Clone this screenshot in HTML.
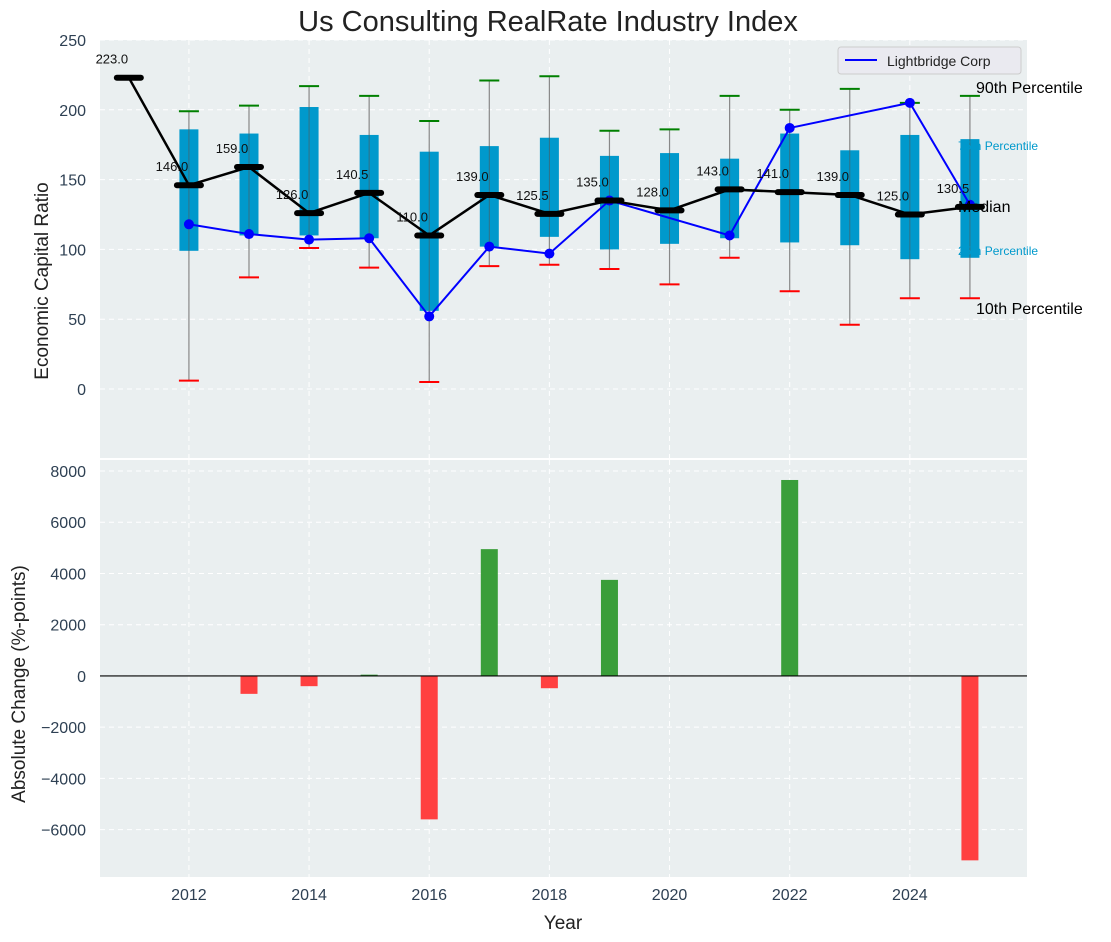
<!DOCTYPE html>
<html><head><meta charset="utf-8"><style>
html,body{margin:0;padding:0;background:#fff;}
svg{display:block;font-family:"Liberation Sans","DejaVu Sans",sans-serif;}
</style></head><body>
<svg id="chart" width="1111" height="942" viewBox="0 0 1111 942" xmlns="http://www.w3.org/2000/svg">
<text x="548" y="31" font-size="29" text-anchor="middle" fill="#222">Us Consulting RealRate Industry Index</text>
<g id="gtop"></g>
<g id="gbot"></g>
</svg>
<script>
const years = [2012,2013,2014,2015,2016,2017,2018,2019,2020,2021,2022,2023,2024,2025];
const q75 = [186,183,202,182,170,174,180,167,169,165,183,171,182,179];
const q25 = [99,110,110,108,56,102,109,100,104,108,105,103,93,94];
const p90 = [199,203,217,210,192,221,224,185,186,210,200,215,205,210];
const p10 = [6,80,101,87,5,88,89,86,75,94,70,46,65,65];
const medYears = [2011,2012,2013,2014,2015,2016,2017,2018,2019,2020,2021,2022,2023,2024,2025];
const medians = [223,146,159,126,140.5,110,139,125.5,135,128,143,141,139,125,130.5];
const lbYears = [2012,2013,2014,2015,2016,2017,2018,2019,2021,2022,2024,2025];
const lbValues = [118,111,107,108,52,102,97,135,110,187,205,132];
const chgYears = [2013,2014,2015,2016,2017,2018,2019,2022,2025];
const chgValues = [-700,-400,50,-5600,4950,-480,3750,7650,-7200];
const xTicks = [2012,2014,2016,2018,2020,2022,2024];
const yTopTicks = [0,50,100,150,200,250];
const yBotTicks = [-6000,-4000,-2000,0,2000,4000,6000,8000];

const NS="http://www.w3.org/2000/svg";
const L=100,R=1027;
const X=v=>L+(v-2010.52)/(2025.95-2010.52)*(R-L);
const T0=40,T1=458, Yt=v=>T0+(250-v)/(250-(-49.4))*(T1-T0);
const B0=460,B1=877, Yb=v=>B0+(8430-v)/(8430-(-7850))*(B1-B0);
function mk(p,tag,a,txt){const e=document.createElementNS(NS,tag);for(const k in a)e.setAttribute(k,a[k]);if(txt!=null)e.textContent=txt;p.appendChild(e);return e;}
const gTop=document.getElementById('gtop'), gBot=document.getElementById('gbot');
const tick='#2e4053';

function panel(g,y0,y1,yt,Y,fmt){
  let bg=mk(g,'rect',{x:L,y:y0,width:R-L,height:y1-y0,fill:'#eaeff0'});
  
  
  xTicks.forEach(t=>{let l=mk(g,'line',{x1:X(t),x2:X(t),y1:y0,y2:y1,stroke:'#fff','stroke-dasharray':'5,4','stroke-width':1});
    });
  yt.forEach(t=>{let l=mk(g,'line',{x1:L,x2:R,y1:Y(t),y2:Y(t),stroke:'#fff','stroke-dasharray':'5,4','stroke-width':1});
    
    let tx=mk(g,'text',{x:L-14,y:Y(t)+6,'text-anchor':'end','font-size':16,fill:tick},fmt(t));
    });
}
panel(gTop,T0,T1,yTopTicks,Yt,t=>t);
panel(gBot,B0,B1,yBotTicks,Yb,t=>t<0?'\u2212'+(-t):t);
let yl1=mk(gTop,'text',{transform:`translate(48,281) rotate(-90)`,'text-anchor':'middle','font-size':19,fill:'#222'},'Economic Capital Ratio');

let yl2=mk(gBot,'text',{transform:`translate(25,684) rotate(-90)`,'text-anchor':'middle','font-size':19,fill:'#222'},'Absolute Change (%-points)');

xTicks.forEach(t=>{let tx=mk(gBot,'text',{x:X(t),y:B1+23,'text-anchor':'middle','font-size':16,fill:tick},t);
  });
let xl=mk(gBot,'text',{x:563,y:929,'text-anchor':'middle','font-size':19,fill:'#222'},'Year');


years.forEach((y,i)=>{
  let w=mk(gTop,'line',{x1:X(y),x2:X(y),y1:Yt(p90[i]),y2:Yt(p10[i]),stroke:'#888','stroke-width':1.2});
  
  let b=mk(gTop,'rect',{x:X(y)-9.5,y:Yt(q75[i]),width:19,height:Yt(q25[i])-Yt(q75[i]),fill:'#0099cc'});
  
  let w2=mk(gTop,'line',{x1:X(y),x2:X(y),y1:Yt(q75[i]),y2:Yt(q25[i]),stroke:'#555','stroke-width':1,opacity:0.6});
  
  let c1=mk(gTop,'line',{x1:X(y)-10,x2:X(y)+10,y1:Yt(p90[i]),y2:Yt(p90[i]),stroke:'green','stroke-width':2});
  
  let c2=mk(gTop,'line',{x1:X(y)-10,x2:X(y)+10,y1:Yt(p10[i]),y2:Yt(p10[i]),stroke:'red','stroke-width':2});
  
});
let lp=mk(gTop,'polyline',{points:lbYears.map((y,i)=>X(y)+','+Yt(lbValues[i])).join(' '),fill:'none',stroke:'#0000ff','stroke-width':2});

lbYears.forEach((y,i)=>{let c=mk(gTop,'circle',{cx:X(y),cy:Yt(lbValues[i]),r:5,fill:'#0000ff'});
  });
let mp=mk(gTop,'polyline',{points:medYears.map((y,i)=>X(y)+','+Yt(medians[i])).join(' '),fill:'none',stroke:'#000','stroke-width':2.5});

medYears.forEach((y,i)=>{
  let m=mk(gTop,'line',{x1:X(y)-12,x2:X(y)+12,y1:Yt(medians[i]),y2:Yt(medians[i]),stroke:'#000','stroke-width':6,'stroke-linecap':'round'});
  
  let t=mk(gTop,'text',{x:X(y)-17,y:Yt(medians[i])-14,'text-anchor':'middle','font-size':13,fill:'#111'},medians[i].toFixed(1));
  
});
[['90th Percentile',976,93,16,'#000'],['75th Percentile',958,150,12,'#0099cc'],['Median',958,212,16,'#000'],['25th Percentile',958,255,12,'#0099cc'],['10th Percentile',976,314,16,'#000']].forEach(a=>{
  let t=mk(gTop,'text',{x:a[1],y:a[2],'font-size':a[3],fill:a[4]},a[0]);
  
});
let lg=mk(gTop,'g',{});

mk(lg,'rect',{x:838,y:47,width:183,height:27,rx:3,fill:'#eaeaf0',stroke:'#ccc'});
mk(lg,'line',{x1:845,x2:877,y1:60,y2:60,stroke:'#0000ff','stroke-width':2});
mk(lg,'text',{x:887,y:66,'font-size':14,fill:'#222'},'Lightbridge Corp');
chgYears.forEach((y,i)=>{const v=chgValues[i];
  let b=mk(gBot,'rect',{x:X(y)-8.5,y:Math.min(Yb(v),Yb(0)),width:17,height:Math.abs(Yb(v)-Yb(0)),fill:v>=0?'#3a9e3a':'#ff4040'});
  });
let z=mk(gBot,'line',{x1:L,x2:R,y1:Yb(0),y2:Yb(0),stroke:'#000','stroke-width':1.2});

</script>
</body></html>
